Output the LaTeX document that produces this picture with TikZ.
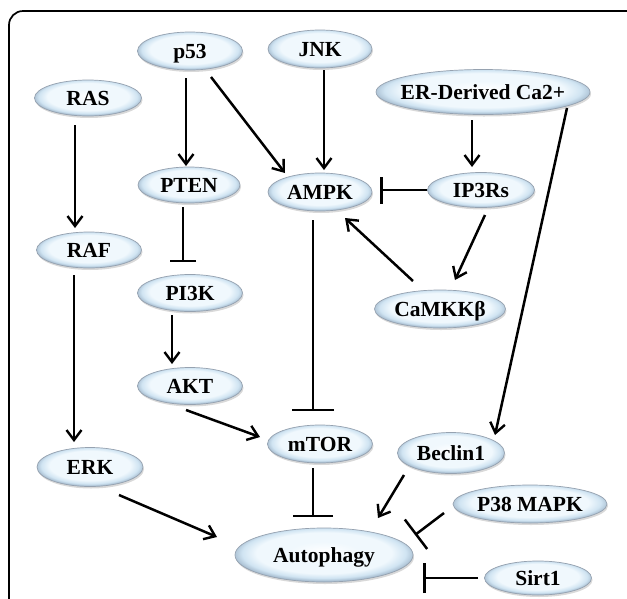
\documentclass[tikz,border=0pt]{standalone}
\usepackage{fontspec}
\setmainfont{Liberation Serif}
\newfontfamily\nodefont{Liberation Serif}
\usetikzlibrary{arrows.meta,calc,shapes.geometric,shadows}
\newcommand{\lbl}[1]{\makebox[0pt]{\raisebox{-0.33em}[0pt][0pt]{#1}}}
\definecolor{blobin}{RGB}{240,248,253}
\definecolor{blobmid}{RGB}{208,228,242}
\definecolor{blobrim}{RGB}{160,182,202}
\definecolor{blobedge}{RGB}{150,162,176}
\pgfdeclareradialshading{blobshade}{\pgfpoint{0bp}{3bp}}{color(0bp)=(white); color(10bp)=(blobin); color(19bp)=(blobin); color(23bp)=(blobmid); color(26bp)=(blobrim); color(50bp)=(blobrim)}
\tikzset{
  blob/.style={ellipse, inner sep=0pt, draw=blobedge, line width=0.7pt,
    shading=blobshade,
    drop shadow={shadow xshift=1pt, shadow yshift=-2pt, opacity=0.3},
    font=\nodefont\fontsize{21.5}{24}\selectfont\bfseries},
  act/.style={line width=2.5pt, -{Straight Barb[length=10pt,width=15pt,line width=2.4pt]}},
  inh/.style={line width=2.5pt, -{Bar[width=#1,line width=2.5pt]}},
  frame/.style={line width=1.7pt, rounded corners=14pt}
}
\begin{document}
\begin{tikzpicture}[x=1pt,y=-1pt]
\useasboundingbox (0,0) rectangle (627,598);
\draw[frame] (9,600) -- (9,11) -- (628,11);

\node[blob, minimum width=105pt, minimum height=38pt] (p53) at (190,51) {\lbl{p53}};
\node[blob, minimum width=104pt, minimum height=38pt] (jnk) at (320,49) {\lbl{JNK}};
\node[blob, minimum width=107pt, minimum height=36pt] (ras) at (88,98) {\lbl{RAS}};
\node[blob, minimum width=214pt, minimum height=45pt] (er) at (483,92) {\lbl{ER-Derived Ca2+}};
\node[blob, minimum width=102pt, minimum height=36pt] (pten) at (189,185) {\lbl{PTEN}};
\node[blob, minimum width=104pt, minimum height=38pt] (ampk) at (320,192) {\lbl{AMPK}};
\node[blob, minimum width=107pt, minimum height=35pt] (ip3) at (481,190) {\lbl{IP3Rs}};
\node[blob, minimum width=105pt, minimum height=36pt] (raf) at (89,250) {\lbl{RAF}};
\node[blob, minimum width=105pt, minimum height=37pt] (pi3k) at (190,293) {\lbl{PI3K}};
\node[blob, minimum width=131pt, minimum height=38pt] (camkk) at (440,309) {\lbl{CaMKKβ}};
\node[blob, minimum width=105pt, minimum height=37pt] (akt) at (190,386) {\lbl{AKT}};
\node[blob, minimum width=105pt, minimum height=38pt] (mtor) at (320,444) {\lbl{mTOR}};
\node[blob, minimum width=106pt, minimum height=39pt] (erk) at (90,467) {\lbl{ERK}};
\node[blob, minimum width=107pt, minimum height=41pt] (beclin) at (451,453) {\lbl{Beclin1}};
\node[blob, minimum width=154pt, minimum height=38pt] (p38) at (530,504) {\lbl{P38 MAPK}};
\node[blob, minimum width=178pt, minimum height=54pt] (auto) at (324,555) {\lbl{Autophagy}};
\node[blob, minimum width=107pt, minimum height=34pt] (sirt) at (538,578) {\lbl{Sirt1}};

\draw[act] ($(ras)+(-13,27)$) -- ($(raf)+(-14,-22)$);
\draw[act] ($(raf)+(-15,25)$) -- ($(erk)+(-16,-25)$);
\draw[act] ($(p53)+(-4,27)$) -- ($(pten)+(-3,-19)$);
\draw[act] ($(p53)+(21,26)$) -- ($(ampk)+(-35,-19)$);
\draw[act] ($(jnk)+(4,21)$) -- ($(ampk)+(4,-22)$);
\draw[inh=26pt] ($(pten)+(-6,22)$) -- ($(pi3k)+(-7,-31)$);
\draw[act] ($(pi3k)+(-18,22)$) -- ($(akt)+(-18,-22)$);
\draw[act] ($(akt)+(-4,24)$) -- ($(mtor)+(-60,-7)$);
\draw[inh=42pt] ($(ampk)+(-7,28)$) -- ($(mtor)+(-7,-33)$);
\draw[inh=40pt] ($(mtor)+(-7,24)$) -- ($(auto)+(-11,-38)$);
\draw[act] ($(erk)+(29,28)$) -- ($(auto)+(-107,-18)$);
\draw[act] ($(er)+(-11,28)$) -- ($(ip3)+(-9,-23)$);
\draw[inh=27pt] ($(ip3)+(-54,0)$) -- ($(ampk)+(60,-2)$);
\draw[act] ($(ip3)+(4,25)$) -- ($(camkk)+(15,-29)$);
\draw[act] ($(camkk)+(-27,-28)$) -- ($(ampk)+(25,26)$);
\draw[act] ($(er)+(84,16)$) -- ($(beclin)+(44,-18)$);
\draw[act] ($(beclin)+(-47,22)$) -- ($(auto)+(54,-37)$);
\draw[inh=37pt] ($(p38)+(-86,9)$) -- ($(auto)+(91,-20)$);
\draw[inh=30pt] ($(sirt)+(-60,0)$) -- ($(auto)+(99,23)$);
\end{tikzpicture}
\end{document}
